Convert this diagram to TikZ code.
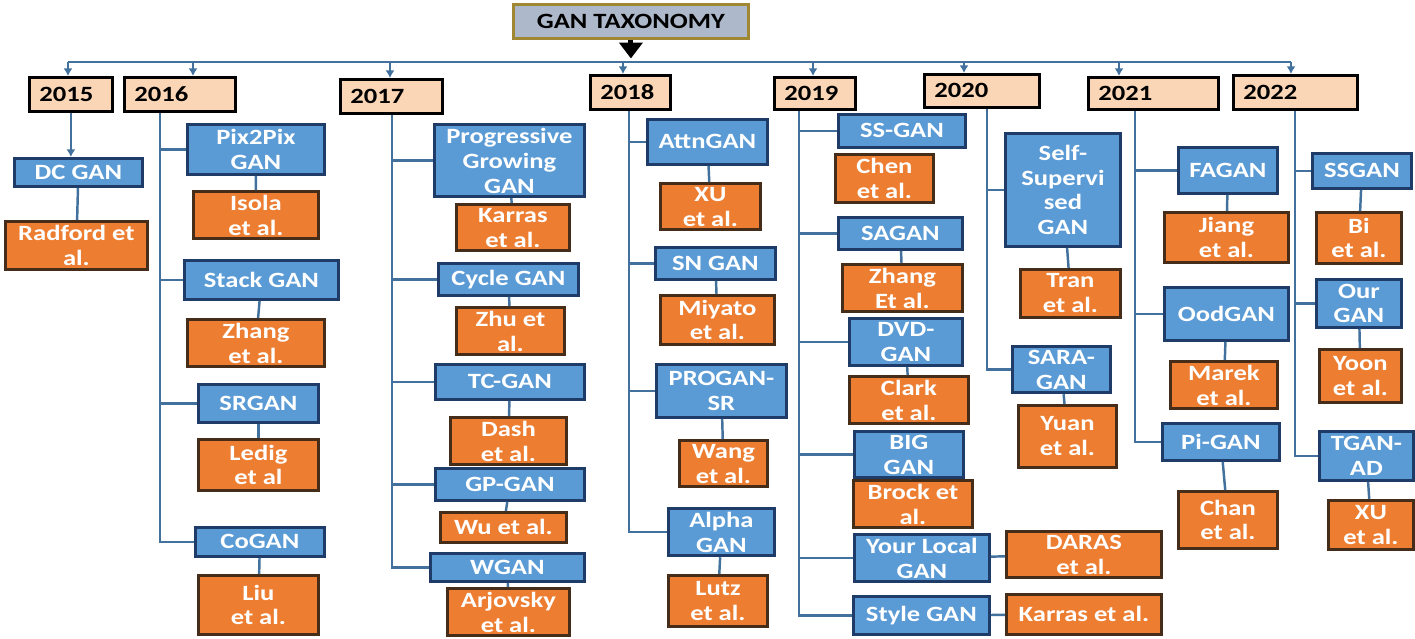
\documentclass[tikz,border=0pt]{standalone}
\usepackage{fontspec}
\setmainfont{Carlito}[FakeStretch=1.22]
\usepackage{tikz}
\usetikzlibrary{arrows.meta}
\definecolor{ganblue}{RGB}{91,155,213}
\definecolor{ganedge}{RGB}{31,60,105}
\definecolor{reforange}{RGB}{237,125,49}
\definecolor{refedge}{RGB}{70,45,25}
\definecolor{peach}{RGB}{250,214,182}
\definecolor{taxfill}{RGB}{173,185,202}
\definecolor{taxedge}{RGB}{160,135,50}
\definecolor{linkblue}{RGB}{65,113,156}

\begin{document}
\begin{tikzpicture}[
        every node/.style={font=\fontsize{6.2}{7.1}\selectfont\bfseries, inner sep=1pt, align=center, anchor=north west},
        wh/.style 2 args={minimum width=#1cm, minimum height=#2cm},
        gan/.style={draw=ganedge, fill=ganblue, text=white, line width=0.8pt},
        ref/.style={draw=refedge, fill=reforange, text=white, line width=0.8pt},
        year/.style={draw=black, fill=peach, line width=0.8pt, minimum height=0.34cm, inner xsep=0.1cm, align=left},
        link/.style={draw=linkblue, line width=0.7pt},
        tip/.style={link, -{Latex[length=2.2pt,width=2.6pt]}},
        ]
        \useasboundingbox (0,0) rectangle (14.15,-6.38);
        % root and years
        \node[draw=taxedge, fill=taxfill, line width=0.8pt, wh={2.35}{0.34}] (tax) at (5.12,-0.03) {GAN TAXONOMY};
        \coordinate (bar) at (0,-0.62);
        \node[year, text width=0.63cm] (y2015) at (0.28,-0.76) {2015};
        \node[year, text width=0.91cm] (y2016) at (1.23,-0.76) {2016};
        \node[year, text width=0.82cm] (y2017) at (3.39,-0.78) {2017};
        \node[year, text width=0.60cm] (y2018) at (5.89,-0.74) {2018};
        \node[year, text width=0.61cm, minimum height=0.32cm] (y2019) at (7.73,-0.76) {2019};
        \node[year, text width=0.95cm, minimum height=0.33cm] (y2020) at (9.23,-0.73) {2020};
        \node[year, text width=1.10cm, minimum height=0.32cm] (y2021) at (10.87,-0.76) {2021};
        \node[year, text width=1.04cm] (y2022) at (12.32,-0.74) {2022};
        \draw[link] (0.68,0 |- bar) -- (12.91,0 |- bar);
        \foreach \yr/\ax in {2015/0.68,2016/1.93,2017/3.90,2018/6.23,2019/8.13,2020/9.64,2021/11.19,2022/12.91}
          \draw[tip] (\ax,0 |- bar) -- (\ax,0 |- y\yr.north);
        \draw[line width=1.4pt, -{Triangle[width=6.5pt,length=4.5pt]}] (tax.south) -- ([yshift=1pt]tax.south |- bar);

        % 2015
        \node[gan, wh={1.28}{0.28}] (dcgan) at (0.13,-1.57) {DC GAN};
        \node[ref, wh={1.42}{0.48}] (radford) at (0.04,-2.20) {Radford et\\al.};
        % 2016
        \node[gan, wh={1.37}{0.50}] (pix) at (1.86,-1.23) {Pix2Pix\\GAN};
        \node[ref, wh={1.25}{0.44}] (isola) at (1.92,-1.90) {Isola\\et al.};
        \node[gan, wh={1.54}{0.39}] (stack) at (1.83,-2.59) {Stack GAN};
        \node[ref, wh={1.37}{0.42}] (zhang) at (1.86,-3.18) {Zhang\\et al.};
        \node[gan, wh={1.20}{0.38}] (srgan) at (1.97,-3.83) {SRGAN};
        \node[ref, wh={1.20}{0.51}] (ledig) at (1.97,-4.38) {Ledig\\et al};
        \node[gan, wh={1.29}{0.29}] (cogan) at (1.94,-5.26) {CoGAN};
        \node[ref, wh={1.20}{0.59}] (liu) at (1.97,-5.74) {Liu\\et al.};
        % 2017
        \node[gan, wh={1.50}{0.69}] (pggan) at (4.33,-1.23) {Progressive\\Growing\\GAN};
        \node[ref, wh={1.13}{0.42}] (karras) at (4.55,-2.03) {Karras\\et al.};
        \node[gan, wh={1.40}{0.32}] (cycle) at (4.37,-2.62) {Cycle GAN};
        \node[ref, wh={1.08}{0.42}] (zhu) at (4.55,-3.06) {Zhu et\\al.};
        \node[gan, wh={1.49}{0.35}] (tcgan) at (4.34,-3.63) {TC-GAN};
        \node[ref, wh={1.16}{0.43}] (dash) at (4.49,-4.16) {Dash\\et al.};
        \node[gan, wh={1.49}{0.32}] (gpgan) at (4.34,-4.67) {GP-GAN};
        \node[ref, wh={1.26}{0.30}] (wu) at (4.39,-5.11) {Wu et al.};
        \node[gan, wh={1.54}{0.28}] (wgan) at (4.29,-5.52) {WGAN};
        \node[ref, wh={1.22}{0.46}] (arjovsky) at (4.46,-5.87) {Arjovsky\\et al.};
        % 2018
        \node[gan, wh={1.20}{0.45}] (attn) at (6.46,-1.18) {AttnGAN};
        \node[ref, wh={1.00}{0.43}] (xu) at (6.59,-1.82) {XU\\et al.};
        \node[gan, wh={1.20}{0.32}] (sngan) at (6.54,-2.46) {SN GAN};
        \node[ref, wh={1.14}{0.49}] (miyato) at (6.59,-2.94) {Miyato\\et al.};
        \node[gan, wh={1.30}{0.53}] (progansr) at (6.55,-3.63) {PROGAN-\\SR};
        \node[ref, wh={0.88}{0.44}] (wang) at (6.78,-4.39) {Wang\\et al.};
        \node[gan, wh={1.06}{0.40}] (alpha) at (6.67,-5.07) {Alpha\\GAN};
        \node[ref, wh={0.99}{0.51}] (lutz) at (6.67,-5.74) {Lutz\\et al.};
        % 2019
        \node[gan, wh={1.27}{0.33}] (ssgan) at (8.37,-1.13) {SS-GAN};
        \node[ref, wh={0.98}{0.48}] (chen) at (8.34,-1.53) {Chen\\et al.};
        \node[gan, wh={1.24}{0.32}] (sagan) at (8.37,-2.16) {SAGAN};
        \node[ref, wh={1.20}{0.42}] (zhangb) at (8.41,-2.63) {Zhang\\Et al.};
        \node[gan, wh={1.13}{0.47}] (dvd) at (8.48,-3.17) {DVD-\\GAN};
        \node[ref, wh={1.19}{0.46}] (clark) at (8.48,-3.75) {Clark\\et al.};
        \node[gan, wh={1.09}{0.41}] (biggan) at (8.53,-4.30) {BIG\\GAN};
        \node[ref, wh={1.19}{0.46}] (brock) at (8.52,-4.79) {Brock et\\al.};
        \node[gan, wh={1.35}{0.47}] (local) at (8.53,-5.33) {Your Local\\GAN};
        \node[ref, wh={1.55}{0.46}] (daras) at (10.05,-5.30) {DARAS\\et al.};
        \node[gan, wh={1.36}{0.38}] (style) at (8.52,-5.95) {Style GAN};
        \node[ref, wh={1.55}{0.40}] (karrasb) at (10.05,-5.93) {Karras et al.};
        % 2020
        \node[gan, wh={1.15}{1.13}] (selfsup) at (10.04,-1.32) {Self-\\Supervi\\sed\\GAN};
        \node[ref, wh={1.00}{0.48}] (tran) at (10.19,-2.68) {Tran\\et al.};
        \node[gan, wh={0.98}{0.43}] (sara) at (10.11,-3.45) {SARA-\\GAN};
        \node[ref, wh={0.98}{0.62}] (yuan) at (10.17,-4.04) {Yuan\\et al.};
        % 2021
        \node[gan, wh={0.99}{0.46}] (fagan) at (11.77,-1.46) {FAGAN};
        \node[ref, wh={1.24}{0.50}] (jiang) at (11.63,-2.11) {Jiang\\et al.};
        \node[gan, wh={1.24}{0.53}] (ood) at (11.63,-2.86) {OodGAN};
        \node[ref, wh={1.07}{0.43}] (marek) at (11.69,-3.60) {Marek\\et al.};
        \node[gan, wh={1.17}{0.37}] (pigan) at (11.61,-4.22) {Pi-GAN};
        \node[ref, wh={0.99}{0.57}] (chan) at (11.77,-4.90) {Chan\\et al.};
        % 2022
        \node[gan, wh={0.99}{0.35}] (ssganb) at (13.11,-1.52) {SSGAN};
        \node[ref, wh={0.85}{0.51}] (bi) at (13.15,-2.11) {Bi\\et al.};
        \node[gan, wh={0.85}{0.48}] (our) at (13.15,-2.78) {Our\\GAN};
        \node[ref, wh={0.82}{0.53}] (yoon) at (13.18,-3.48) {Yoon\\et al.};
        \node[gan, wh={0.94}{0.49}] (tgan) at (13.18,-4.30) {TGAN-\\AD};
        \node[ref, wh={0.85}{0.49}] (xub) at (13.27,-4.99) {XU\\et al.};

        % year trunks
        \draw[tip] (y2015.south) -- (y2015.south |- dcgan.north);
        \coordinate (t2016) at (1.60,0 |- y2016.south);
        \coordinate (t2017) at (3.92,0 |- y2017.south);
        \coordinate (t2018) at (6.29,0 |- y2018.south);
        \coordinate (t2019) at (7.99,0 |- y2019.south);
        \coordinate (t2020) at (9.87,0 |- y2020.south);
        \coordinate (t2021) at (11.35,0 |- y2021.south);
        \coordinate (t2022) at (12.95,0 |- y2022.south);
        \draw[link] (t2016) |- (cogan.west);
        \draw[link] (t2017) |- (wgan.west);
        \draw[link] (t2018) |- (alpha.west);
        \draw[link] (t2019) |- (style.west);
        \draw[link] (t2020) |- (sara.west);
        \draw[link] (t2021) |- (pigan.west);
        \draw[link] (t2022) |- (tgan.west);
        \foreach \yr/\m in {2016/pix,2016/stack,2016/srgan,2017/pggan,2017/cycle,2017/tcgan,2017/gpgan,
            2018/attn,2018/sngan,2018/progansr,2019/ssgan,2019/sagan,2019/dvd,2019/biggan,2019/local,
            2020/selfsup,2021/fagan,2021/ood,2022/ssganb,2022/our}
          \draw[link] (t\yr |- \m.west) -- (\m.west);

        % model to authors
        \foreach \a/\b in {dcgan/radford,pix/isola,stack/zhang,srgan/ledig,cogan/liu,pggan/karras,cycle/zhu,
            tcgan/dash,gpgan/wu,wgan/arjovsky,attn/xu,sngan/miyato,progansr/wang,alpha/lutz,sagan/zhangb,
            dvd/clark,biggan/brock,local/daras,style/karrasb,selfsup/tran,sara/yuan,fagan/jiang,ood/marek,
            pigan/chan,ssganb/bi,our/yoon,tgan/xub}
          \draw[link] (\a) -- (\b);
      \end{tikzpicture}
\end{document}
